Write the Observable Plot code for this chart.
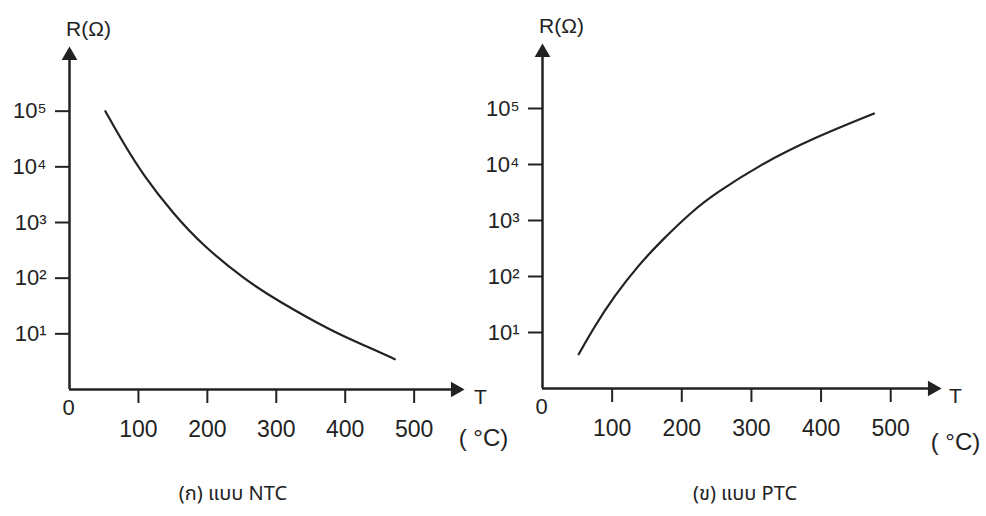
<!DOCTYPE html>
<html><head><meta charset="utf-8">
<script src="https://cdn.jsdelivr.net/npm/d3@7"></script>
<script src="https://cdn.jsdelivr.net/npm/@observablehq/plot@0.6"></script>
<style>
body{margin:0;background:#fff;}
#wrap{position:relative;width:986px;height:516px;overflow:hidden;background:#fff;font-family:"Liberation Sans",Arial,sans-serif;color:#222;}
#wrap svg{position:absolute;top:0;}
.cap{position:absolute;top:481px;font-size:20px;line-height:26px;transform:translateX(-50%);white-space:nowrap;font-family:"Noto Sans Thai","Noto Sans","DejaVu Sans",sans-serif;color:#222;}
</style></head><body><div id="wrap"></div>
<script>
// Tick values and labels
const xTicks = [100, 200, 300, 400, 500];
const yTicks = [10, 100, 1000, 10000, 100000];
const yTickLabels = ["10¹", "10²", "10³", "10⁴", "10⁵"];
// NTC series (temperature °C, resistance Ω)
const ntcT = [52, 78, 107, 151, 194, 255, 301, 383, 432, 472];
const ntcR = [100000, 26900, 7080, 1410, 380, 93, 40, 10.7, 5.9, 3.5];
// PTC series
const ptcT = [52, 75, 103, 138, 171, 218, 247, 310, 391, 476];
const ptcR = [4.1, 13.0, 44.7, 160, 440, 1580, 2950, 9600, 30500, 81300];
const captions = ["(ก) แบบ NTC", "(ข) แบบ PTC"];
const tMax = 560, rMin = 1, rMax = 1e6;
const ink = "#222";

function panel(T, R, o) {
  const data = T.map((t, i) => ({T: t, R: R[i]}));
  const svg = Plot.plot({
    width: o.width, height: 480,
    marginLeft: o.marginLeft, marginRight: o.marginRight,
    marginTop: o.marginTop, marginBottom: o.marginBottom,
    style: {fontFamily: "Liberation Sans, Arial, sans-serif", fontSize: "20px", color: ink, background: "transparent", overflow: "visible"},
    x: {domain: [0, tMax], axis: null},
    y: {type: "log", domain: [rMin, rMax], axis: null},
    marks: [
      Plot.ruleY([rMin], {x1: 0, x2: tMax, stroke: ink, strokeWidth: 2.5}),
      Plot.ruleX([0], {y1: rMin, y2: rMax, stroke: ink, strokeWidth: 2.5}),
      Plot.dot([{T: tMax, R: rMin}], {x: "T", y: "R", symbol: "triangle2", rotate: 90, r: 7.5, fill: ink}),
      Plot.dot([{T: 0, R: rMax}], {x: "T", y: "R", symbol: "triangle2", r: 7.5, fill: ink}),
      Plot.axisX(xTicks, {anchor: "bottom", tickSize: 14, tickPadding: 17, strokeWidth: 2, fontSize: 23, tickFormat: d => String(d), label: null}),
      Plot.axisY(yTicks, {anchor: "left", tickSize: 14, tickPadding: 9, strokeWidth: 2, fontSize: 22, tickFormat: d => yTickLabels[yTicks.indexOf(d)], label: null}),
      Plot.line(data, {x: "T", y: "R", curve: "basis", stroke: ink, strokeWidth: 2.2}),
      Plot.text([{T: 0, R: rMax, s: "R(Ω)"}], {x: "T", y: "R", text: "s", dx: 19, dy: -26, fontSize: 21}),
      Plot.text([{T: 0, R: rMin, s: "0"}], {x: "T", y: "R", text: "s", dx: -1, dy: 18, fontSize: 22}),
      Plot.text([{T: tMax, R: rMin, s: "T"}], {x: "T", y: "R", text: "s", dx: o.tdx, dy: 8, fontSize: 21}),
      Plot.text([{T: tMax, R: rMin, s: "( °C)"}], {x: "T", y: "R", text: "s", dx: o.cdx, dy: o.cdy, fontSize: 24})
    ]
  });
  svg.style.left = o.left + "px";
  return svg;
}

const wrap = document.getElementById("wrap");
wrap.appendChild(panel(ntcT, ntcR, {left: 0, width: 480, marginLeft: 69, marginRight: 25, marginTop: 55, marginBottom: 91, tdx: 25, cdx: 28, cdy: 49}));
wrap.appendChild(panel(ptcT, ptcR, {left: 470, width: 516, marginLeft: 72, marginRight: 54, marginTop: 52, marginBottom: 92, tdx: 23, cdx: 23, cdy: 54}));
[233, 745].forEach((cx, i) => {
  const d = document.createElement("div");
  d.className = "cap";
  d.style.left = cx + "px";
  d.textContent = captions[i];
  wrap.appendChild(d);
});
</script></body></html>
